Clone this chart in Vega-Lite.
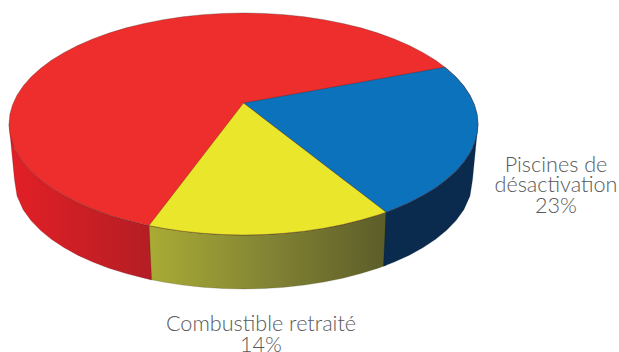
{
  "$schema": "https://vega.github.io/schema/vega-lite/v6.json",
  "width": 619,
  "height": 352,
  "autosize": {"type": "none"},
  "padding": 0,
  "background": "white",
  "view": {"stroke": null},
  "datasets": {
    "wallRed": [
      {"u": -1, "v": 0, "v2": 0},
      {"u": -0.9765, "v": -0.2155, "v2": -0.5045},
      {"u": -0.9659, "v": -0.2588, "v2": -0.6489},
      {"u": -0.9397, "v": -0.342, "v2": -0.7716},
      {"u": -0.9063, "v": -0.4226, "v2": -0.8701},
      {"u": -0.866, "v": -0.5, "v2": -0.9583},
      {"u": -0.8192, "v": -0.5736, "v2": -1.0389},
      {"u": -0.766, "v": -0.6428, "v2": -1.1136},
      {"u": -0.7071, "v": -0.7071, "v2": -1.1818},
      {"u": -0.6428, "v": -0.766, "v2": -1.2438},
      {"u": -0.5736, "v": -0.8192, "v2": -1.2993},
      {"u": -0.5, "v": -0.866, "v2": -1.348},
      {"u": -0.4226, "v": -0.9063, "v2": -1.3898},
      {"u": -0.403, "v": -0.9152, "v2": -1.399},
      {"u": -0.392, "v": -1.4039, "v2": -1.4039}
    ],
    "wallYellow": [
      {"u": -0.403, "v": -0.9152, "v2": -1.399},
      {"u": -0.342, "v": -0.9397, "v2": -1.4243},
      {"u": -0.2588, "v": -0.9659, "v2": -1.4514},
      {"u": -0.1736, "v": -0.9848, "v2": -1.4709},
      {"u": -0.0872, "v": -0.9962, "v2": -1.4826},
      {"u": 0, "v": -1, "v2": -1.4865},
      {"u": 0.0872, "v": -0.9962, "v2": -1.4826},
      {"u": 0.1736, "v": -0.9848, "v2": -1.4709},
      {"u": 0.2588, "v": -0.9659, "v2": -1.4514},
      {"u": 0.342, "v": -0.9397, "v2": -1.4243},
      {"u": 0.4226, "v": -0.9063, "v2": -1.3898},
      {"u": 0.5, "v": -0.866, "v2": -1.348},
      {"u": 0.5736, "v": -0.8192, "v2": -1.2993},
      {"u": 0.6077, "v": -0.7942, "v2": -1.2732}
    ],
    "wallBlue": [
      {"u": 0.597, "v": -1.2816, "v2": -1.2816},
      {"u": 0.6077, "v": -0.7942, "v2": -1.2732},
      {"u": 0.6428, "v": -0.766, "v2": -1.2438},
      {"u": 0.7071, "v": -0.7071, "v2": -1.1818},
      {"u": 0.766, "v": -0.6428, "v2": -1.1136},
      {"u": 0.8192, "v": -0.5736, "v2": -1.0389},
      {"u": 0.866, "v": -0.5, "v2": -0.9583},
      {"u": 0.9063, "v": -0.4226, "v2": -0.8701},
      {"u": 0.9397, "v": -0.342, "v2": -0.7716},
      {"u": 0.9659, "v": -0.2588, "v2": -0.6489},
      {"u": 0.9765, "v": -0.2155, "v2": -0.5045},
      {"u": 1, "v": 0, "v2": 0}
    ],
    "topRed": [
      {"u": -1, "v": 0, "v2": 0},
      {"u": -0.9962, "v": 0.0872, "v2": -0.0872},
      {"u": -0.9848, "v": 0.1736, "v2": -0.1736},
      {"u": -0.9659, "v": 0.2588, "v2": -0.2588},
      {"u": -0.9397, "v": 0.342, "v2": -0.342},
      {"u": -0.9063, "v": 0.4226, "v2": -0.4226},
      {"u": -0.866, "v": 0.5, "v2": -0.5},
      {"u": -0.8192, "v": 0.5736, "v2": -0.5736},
      {"u": -0.766, "v": 0.6428, "v2": -0.6428},
      {"u": -0.7071, "v": 0.7071, "v2": -0.7071},
      {"u": -0.6428, "v": 0.766, "v2": -0.766},
      {"u": -0.5736, "v": 0.8192, "v2": -0.8192},
      {"u": -0.5, "v": 0.866, "v2": -0.866},
      {"u": -0.4226, "v": 0.9063, "v2": -0.9063},
      {"u": -0.342, "v": 0.9397, "v2": -0.9397},
      {"u": -0.2588, "v": 0.9659, "v2": -0.9659},
      {"u": -0.1736, "v": 0.9848, "v2": -0.9848},
      {"u": -0.0872, "v": 0.9962, "v2": -0.9962},
      {"u": 0, "v": 1, "v2": -1},
      {"u": 0.0872, "v": 0.9962, "v2": -0.9962},
      {"u": 0.1736, "v": 0.9848, "v2": -0.9848},
      {"u": 0.2588, "v": 0.9659, "v2": -0.9659},
      {"u": 0.342, "v": 0.9397, "v2": -0.9397},
      {"u": 0.4226, "v": 0.9063, "v2": -0.9063},
      {"u": 0.5, "v": 0.866, "v2": -0.866},
      {"u": 0.5736, "v": 0.8192, "v2": -0.8192},
      {"u": 0.6428, "v": 0.766, "v2": -0.766},
      {"u": 0.7071, "v": 0.7071, "v2": -0.7071},
      {"u": 0.766, "v": 0.6428, "v2": -0.6428},
      {"u": 0.8192, "v": 0.5736, "v2": -0.5736},
      {"u": 0.866, "v": 0.5, "v2": -0.5},
      {"u": 0.9063, "v": 0.4226, "v2": -0.4226},
      {"u": 0.9397, "v": 0.342, "v2": -0.342},
      {"u": 0.9659, "v": 0.2588, "v2": -0.2588},
      {"u": 0.9848, "v": 0.1736, "v2": -0.1736},
      {"u": 0.9962, "v": 0.0872, "v2": -0.0872},
      {"u": 1, "v": 0, "v2": 0}
    ],
    "topYellow": [
      {"u": -0.403, "v": -0.9152, "v2": -0.9152},
      {"u": -0.342, "v": -0.7478, "v2": -0.9397},
      {"u": -0.2588, "v": -0.5199, "v2": -0.9659},
      {"u": -0.1736, "v": -0.2865, "v2": -0.9848},
      {"u": -0.0872, "v": -0.0498, "v2": -0.9962},
      {"u": 0, "v": 0.189, "v2": -1},
      {"u": 0.0872, "v": 0.0479, "v2": -0.9962},
      {"u": 0.1736, "v": -0.0918, "v2": -0.9848},
      {"u": 0.2588, "v": -0.2296, "v2": -0.9659},
      {"u": 0.342, "v": -0.3642, "v2": -0.9397},
      {"u": 0.4226, "v": -0.4946, "v2": -0.9063},
      {"u": 0.5, "v": -0.6198, "v2": -0.866},
      {"u": 0.5736, "v": -0.7389, "v2": -0.8192},
      {"u": 0.6077, "v": -0.7942, "v2": -0.7942}
    ],
    "topBlue": [
      {"u": 0, "v": 0.189, "v2": 0.189},
      {"u": 0.6077, "v": 0.4175, "v2": -0.7942},
      {"u": 0.6428, "v": 0.4307, "v2": -0.766},
      {"u": 0.7071, "v": 0.4549, "v2": -0.7071},
      {"u": 0.766, "v": 0.477, "v2": -0.6428},
      {"u": 0.8192, "v": 0.497, "v2": -0.5736},
      {"u": 0.859, "v": 0.512, "v2": -0.512},
      {"u": 0.9063, "v": 0.4226, "v2": -0.4226},
      {"u": 0.9397, "v": 0.342, "v2": -0.342},
      {"u": 0.9659, "v": 0.2588, "v2": -0.2588},
      {"u": 0.9848, "v": 0.1736, "v2": -0.1736},
      {"u": 0.9962, "v": 0.0872, "v2": -0.0872},
      {"u": 1, "v": 0, "v2": 0}
    ],
    "labels": [
      {"u": 1.3326, "v": -0.4324, "lines": ["Piscines de", "désactivation", "23%"]},
      {"u": 0.0746, "v": -1.8694, "lines": ["Combustible retraité", "14%"]}
    ]
  },
  "encoding": {
    "x": {
      "field": "u",
      "type": "quantitative",
      "axis": null,
      "scale": {"domain": [-1.0384, 1.6013], "nice": false, "zero": false}
    },
    "y": {
      "field": "v",
      "type": "quantitative",
      "axis": null,
      "stack": null,
      "scale": {"domain": [-2.0541, 1.1171], "nice": false, "zero": false}
    }
  },
  "layer": [
    {
      "data": {"name": "wallYellow"},
      "mark": {
        "type": "area",
        "stroke": "#2a2a10",
        "strokeWidth": 0.4,
        "strokeOpacity": 0.5,
        "fill": {
          "gradient": "linear", "x1": 0, "x2": 1, "y1": 0, "y2": 0,
          "stops": [
            {"offset": 0, "color": "#a9ab35"},
            {"offset": 0.5, "color": "#838434"},
            {"offset": 1, "color": "#5c5d28"}
          ]
        }
      },
      "encoding": {"y2": {"field": "v2"}}
    },
    {
      "data": {"name": "wallRed"},
      "mark": {
        "type": "area",
        "stroke": "#3a1012",
        "strokeWidth": 0.4,
        "strokeOpacity": 0.5,
        "fill": {
          "gradient": "linear", "x1": 0, "x2": 1, "y1": 0, "y2": 0,
          "stops": [
            {"offset": 0, "color": "#e31f26"},
            {"offset": 1, "color": "#b41e24"}
          ]
        }
      },
      "encoding": {"y2": {"field": "v2"}}
    },
    {
      "data": {"name": "wallBlue"},
      "mark": {"type": "area", "fill": "#0a2b4e", "stroke": "#05182c", "strokeWidth": 0.4, "strokeOpacity": 0.5},
      "encoding": {"y2": {"field": "v2"}}
    },
    {
      "data": {"name": "topRed"},
      "mark": {"type": "area", "fill": "#ee2e2c", "stroke": "#3a2020", "strokeWidth": 0.5, "strokeOpacity": 0.6},
      "encoding": {"y2": {"field": "v2"}}
    },
    {
      "data": {"name": "topBlue"},
      "mark": {"type": "area", "fill": "#0b72bb", "stroke": "#1c2a36", "strokeWidth": 0.5, "strokeOpacity": 0.6},
      "encoding": {"y2": {"field": "v2"}}
    },
    {
      "data": {"name": "topYellow"},
      "mark": {"type": "area", "fill": "#e9e62c", "stroke": "#33331a", "strokeWidth": 0.5, "strokeOpacity": 0.6},
      "encoding": {"y2": {"field": "v2"}}
    },
    {
      "data": {"name": "labels"},
      "mark": {
        "type": "text",
        "align": "center",
        "baseline": "alphabetic",
        "font": "Lato",
        "fontWeight": 300,
        "fontSize": 21.6,
        "lineHeight": 20.5,
        "color": "#58595b"
      },
      "encoding": {"text": {"field": "lines"}}
    }
  ]
}
